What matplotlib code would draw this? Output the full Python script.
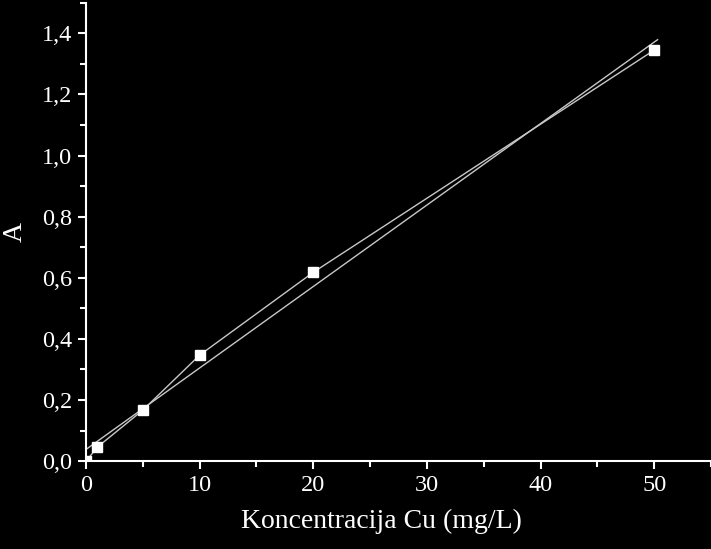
import numpy as np
import matplotlib.pyplot as plt
from matplotlib.ticker import MultipleLocator, FuncFormatter

conc = [0, 1, 5, 10, 20, 50]
absorb = [0.0, 0.046, 0.167, 0.347, 0.618, 1.345]

plt.rcParams['font.family'] = ['Liberation Serif', 'DejaVu Serif']

fig = plt.figure(figsize=(7.11, 5.49), dpi=100, facecolor='black')
ax = fig.add_axes([0.121, 0.160, 0.879, 0.835], facecolor='black')

# linear fit
k, n = np.polyfit(conc, absorb, 1)
xf = np.array([0, 50.3])
ax.plot(xf, k * xf + n, color='#c8c8c8', lw=1.0)

ax.plot(conc, absorb, color='#c8c8c8', lw=1.0, marker='s', ms=7.5,
        mfc='white', mec='white')

ax.set_xlim(0, 55)
ax.set_ylim(0, 1.5)
ax.xaxis.set_major_locator(MultipleLocator(10))
ax.xaxis.set_minor_locator(MultipleLocator(5))
ax.yaxis.set_major_locator(MultipleLocator(0.2))
ax.yaxis.set_minor_locator(MultipleLocator(0.1))
ax.yaxis.set_major_formatter(FuncFormatter(lambda v, p: ("%.1f" % v).replace(".", ",")))

for s in ["top", "right"]:
    ax.spines[s].set_visible(False)
for s in ["left", "bottom"]:
    ax.spines[s].set_color("white")
    ax.spines[s].set_linewidth(1.5)

ax.tick_params(which="both", direction="out", colors="white", width=1.5, labelsize=17.5)
ax.tick_params(which="major", length=6, pad=4)
ax.tick_params(which="minor", length=4)

ax.set_xlabel("Koncentracija Cu (mg/L)", color="white", fontsize=20, labelpad=9)
ax.xaxis.set_label_coords(0.472, -0.105)
ax.set_ylabel("A", color="white", fontsize=20, labelpad=10)

fig.savefig("out.png", dpi=100, facecolor="black")
